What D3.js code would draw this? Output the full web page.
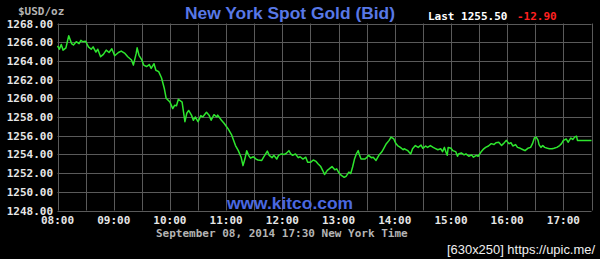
<!DOCTYPE html>
<html>
<head>
<meta charset="utf-8">
<script src="https://d3js.org/d3.v7.min.js"></script>
<style>
  html, body { margin: 0; padding: 0; background: #000; }
  svg { display: block; }
</style>
</head>
<body>
<svg id="chart" width="600" height="259"></svg>
<script>
// ---- data ----
// minutes after 08:00 (New York time)
const minutes = [0,2,4,6,9,12,15,17,20,23,25,27,30,33,36,38,41,43,46,49,52,55,58,61,65,68,72,75,79,81,84,85,87,90,92,95,98,100,103,105,108,111,114,116,120,123,125,127,129,133,136,138,140,143,145,147,150,153,155,159,162,164,167,170,171,175,178,182,186,
190,193,196,198,200,202,204,206,209,212,214,218,220,224,226,229,231,234,236,239,242,244,247,249,251,254,257,259,262,265,267,270,273,276,278,281,283,285,288,290,293,296,298,300,303,306,308,311,313,315,317,319,321,322,324,328,330,332,335,337,340,343,346,348,351,354,356,359,361,363,366,369,
370,374,377,379,382,385,388,390,393,395,398,401,403,406,409,411,413,415,416,417,420,422,425,427,428,431,434,436,439,442,444,447,449,452,455,457,460,463,466,468,471,474,476,479,482,484,486,489,491,494,497,499,502,505,507,509,511,513,514,516,518,520,523,525,528,530,533,536,538,540,543,545,547,548,550,552,554,555,559,570];
const prices = [1265.6,1265.25,1265.75,1265.15,1265.4,1266.7,1265.85,1265.7,1266.05,1265.85,1266.2,1266.05,1266.1,1265.5,1265.25,1265.5,1264.95,1265.25,1264.45,1264.7,1265.15,1264.9,1265.3,1264.55,1264.9,1265.05,1264.8,1264.45,1264.1,1263.55,1264.8,1265.4,1264.6,1264.1,1263.55,1263.4,1263.6,1263.2,1263.7,1263.0,1262.85,1262.2,1261.05,1260.0,1259.6,1258.9,1259.25,1259.2,1259.9,1259.6,1257.5,1258.4,1258.7,1258.2,1257.65,1258.0,1257.5,1258.15,1258.0,1258.5,1258.15,1257.65,1258.25,1258.0,1258.2,1257.65,1257.3,1256.75,1256.05,
1254.95,1254.4,1253.7,1252.8,1253.5,1254.4,1253.9,1253.6,1253.75,1253.5,1253.4,1253.35,1253.7,1254.35,1253.9,1253.65,1253.9,1253.5,1253.9,1254.05,1254.0,1254.1,1254.4,1254.05,1253.9,1254.05,1253.65,1253.75,1253.5,1253.7,1253.15,1253.15,1253.4,1253.25,1253.0,1252.7,1252.3,1251.85,1252.3,1252.45,1252.7,1252.35,1252.45,1252.1,1251.75,1251.55,1251.65,1252.1,1251.95,1252.65,1253.5,1254.05,1254.4,1254.05,1253.5,1253.5,1253.65,1253.9,1253.65,1253.7,1253.35,1253.9,1254.25,1254.6,1255.15,1255.5,1255.85,1255.65,1255.2,1254.95,1254.75,1254.5,
1254.6,1254.4,1254.05,1254.6,1254.95,1254.75,1255.0,1254.65,1254.9,1254.75,1254.95,1254.75,1254.65,1254.5,1254.6,1254.3,1254.75,1254.15,1253.9,1254.75,1254.65,1254.4,1254.3,1253.8,1254.05,1254.15,1253.95,1254.05,1253.8,1253.95,1253.7,1253.9,1253.8,1254.25,1254.6,1254.75,1254.9,1255.15,1255.05,1255.25,1255.3,1254.95,1255.15,1255.5,1255.15,1255.25,1254.9,1255.05,1254.75,1254.65,1254.5,1254.4,1254.65,1254.75,1255.15,1255.75,1255.85,1255.5,1255.05,1254.75,1254.95,1254.75,1254.65,1254.6,1254.6,1254.65,1254.75,1254.95,1255.15,1255.5,1255.65,1255.3,1255.6,1255.75,1255.6,1255.85,1255.95,1255.5,1255.5,1255.5];
const yTicks = [1248,1250,1252,1254,1256,1258,1260,1262,1264,1266,1268];
const gridMinutes = d3.range(0, 571, 30);
const hourTicks = [0,60,120,180,240,300,360,420,480,540];
const hourLabels = ["08:00","09:00","10:00","11:00","12:00","13:00","14:00","15:00","16:00","17:00"];
const titleText = "New York Spot Gold (Bid)";
const lastText = "Last 1255.50";
const changeText = "-12.90";
const unitText = "$USD/oz";
const dateText = "September 08, 2014 17:30 New York Time";
const siteText = "www.kitco.com";
const stampText = "[630x250] https://upic.me/";

// ---- layout ----
const L = 57.5, R = 591.5, T = 23.5, B = 210.5;
const svg = d3.select("#chart");
svg.append("rect").attr("width", 600).attr("height", 259).attr("fill", "#000");

const x = d3.scaleLinear().domain([0, 570]).range([L, R]);
const y = d3.scaleLinear().domain([1248, 1268]).range([B, T]);

const mono = "'DejaVu Sans Mono', monospace";

// grid
const g = svg.append("g");
g.selectAll("line.h").data(yTicks).join("line")
  .attr("x1", L).attr("x2", R)
  .attr("y1", d => Math.round(y(d)) + 0.5).attr("y2", d => Math.round(y(d)) + 0.5)
  .attr("stroke", "#5a5a5a").attr("stroke-width", 1);
g.selectAll("line.v").data(gridMinutes).join("line")
  .attr("y1", T).attr("y2", B)
  .attr("x1", d => Math.round(x(d)) + 0.5).attr("x2", d => Math.round(x(d)) + 0.5)
  .attr("stroke", "#5a5a5a").attr("stroke-width", 1);

// y labels
svg.selectAll("text.yl").data(yTicks).join("text")
  .attr("x", 53).attr("y", d => y(d) + 4)
  .attr("text-anchor", "end")
  .attr("font-family", mono).attr("font-weight", "bold").attr("font-size", 11)
  .attr("fill", "#e6e6e6")
  .text(d => d.toFixed(2));

// x labels
svg.selectAll("text.xl").data(hourTicks).join("text")
  .attr("x", d => x(d)).attr("y", 224)
  .attr("text-anchor", "middle")
  .attr("font-family", mono).attr("font-weight", "bold").attr("font-size", 11)
  .attr("fill", "#e6e6e6")
  .text((d, i) => hourLabels[i]);

// unit
svg.append("text").attr("x", 18).attr("y", 15)
  .attr("font-family", mono).attr("font-weight", "bold").attr("font-size", 11)
  .attr("fill", "#b4b4b4").text(unitText);

// date line
svg.append("text").attr("x", 156).attr("y", 236.5)
  .attr("font-family", mono).attr("font-weight", "bold").attr("font-size", 11)
  .attr("fill", "#b4b4b4").text(dateText);

// title
svg.append("text").attr("x", 185).attr("y", 18.5)
  .attr("font-family", "'Liberation Sans', Arial, sans-serif").attr("font-weight", "bold")
  .attr("font-size", 17.3).attr("fill", "#5878e6")
  .attr("textLength", 210).attr("lengthAdjust", "spacingAndGlyphs")
  .text(titleText);

// last / change
svg.append("text").attr("x", 428).attr("y", 20)
  .attr("font-family", mono).attr("font-weight", "bold").attr("font-size", 11)
  .attr("fill", "#ffffff").text(lastText);
svg.append("text").attr("x", 517).attr("y", 20)
  .attr("font-family", mono).attr("font-weight", "bold").attr("font-size", 11)
  .attr("fill", "#ff2020").text(changeText);

// price line
const line = d3.line().x((d, i) => x(minutes[i])).y(d => y(d));
svg.append("path").datum(prices)
  .attr("d", line)
  .attr("fill", "none").attr("stroke", "#2ee62e").attr("stroke-width", 1.5)
  .attr("stroke-linejoin", "round");

// site
svg.append("text").attr("x", 227).attr("y", 209)
  .attr("font-family", "'Liberation Sans', Arial, sans-serif").attr("font-weight", "bold")
  .attr("font-size", 17.3).attr("fill", "#4a68e0")
  .attr("textLength", 126).attr("lengthAdjust", "spacingAndGlyphs")
  .text(siteText);

// stamp
svg.append("text").attr("x", 447).attr("y", 254)
  .attr("font-family", "'Liberation Sans Narrow', 'Liberation Sans', sans-serif")
  .attr("font-size", 13).attr("fill", "#f0f0f0")
  .attr("textLength", 148).attr("lengthAdjust", "spacingAndGlyphs")
  .text(stampText);
</script>
</body>
</html>
